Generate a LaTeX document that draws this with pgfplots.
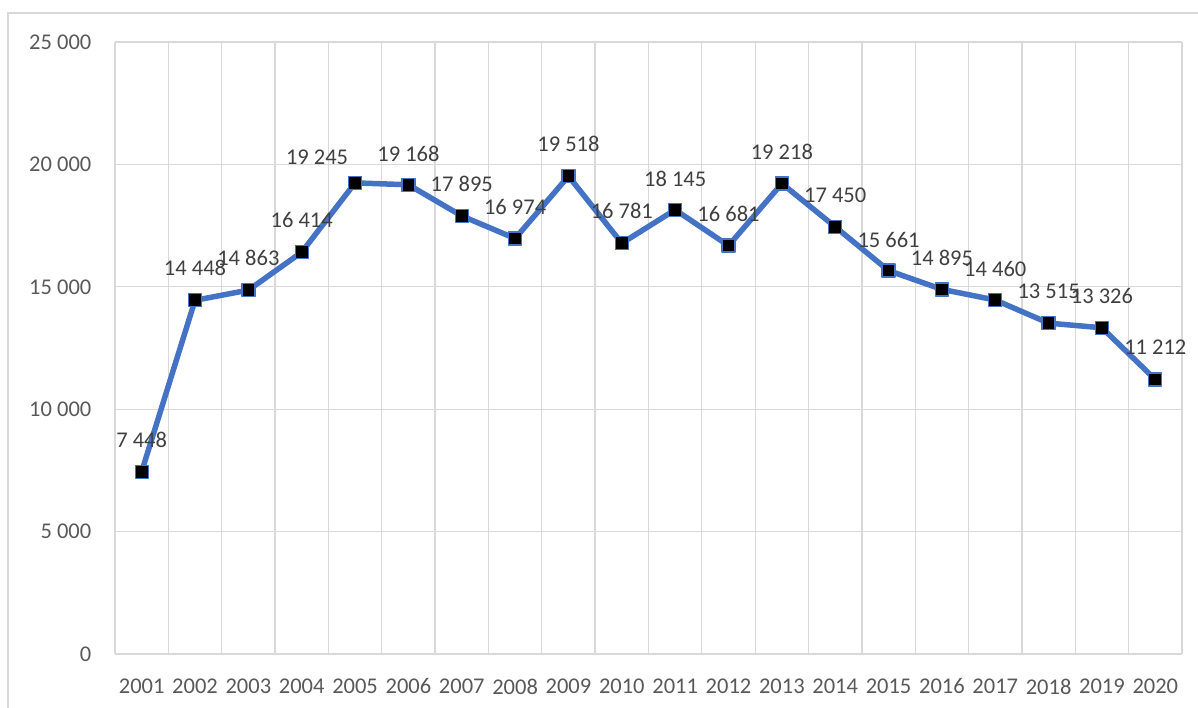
\documentclass[border=0pt]{standalone}
\usepackage{pgfplots}
\pgfplotsset{compat=1.18}
\usepackage{pgfplotstable}
\usepackage{fontspec}
\setmainfont{Carlito}
\definecolor{xblue}{HTML}{4472C4}
\definecolor{gridgray}{HTML}{D9D9D9}
\definecolor{txtgray}{HTML}{595959}
\definecolor{lblgray}{HTML}{404040}
\pgfplotstableread{
x y dx dy
1 7448 0 32
2 14448 0 32
3 14863 0 32
4 16414 0 32
5 19245 -38 26
6 19168 0 31
7 17895 0 32
8 16974 0 31
9 19518 0 32
10 16781 0 32
11 18145 0 31
12 16681 0 32
13 19218 0 32
14 17450 0 32
15 15661 0 31
16 14895 0 31
17 14460 0 31
18 13515 0 32
19 13326 0 32
20 11212 0 32
}\datatable
\begin{document}
\fontsize{22.5bp}{27bp}\selectfont
\begin{tikzpicture}
\path[use as bounding box] (-115bp,-54bp) rectangle (1083bp,654bp);
\draw[gridgray, line width=1.3bp] (-107bp,-80bp) -- (-107bp,641bp) -- (1090bp,641bp);
\begin{axis}[
  at={(0,0)}, anchor=south west,
  scale only axis,
  width=1067bp, height=612bp,
  xmin=0.5, xmax=20.5,
  ymin=0, ymax=25000,
  xtick={1,...,20},
  xticklabels={2001,2002,2003,2004,2005,2006,2007,2008,2009,2010,2011,2012,2013,2014,2015,2016,2017,2018,2019,2020},
  minor xtick={0.5,1.5,...,20.5},
  ytick={0,5000,10000,15000,20000,25000},
  scaled y ticks=false,
  major tick length=0pt, minor tick length=0pt,
  xmajorgrids=false, xminorgrids=true, ymajorgrids=true,
  grid style={gridgray, line width=1.3bp},
  minor grid style={gridgray, line width=1.3bp},
  axis line style={gridgray, line width=1.3bp},
  axis x line*=bottom, axis y line*=left,
  x axis line style={-}, y axis line style={-},
  tick label style={text=txtgray, font=\fontsize{22.5bp}{27bp}\selectfont},
  xticklabel shift=17bp,
  yticklabel shift=16bp,
  /pgf/number format/assume math mode=true,
  /pgf/number format/1000 sep={\ },
  clip=false,
]
\addplot[
  xblue, line width=5.5bp, line join=round,
  mark=square*, mark size=6.5bp,
  mark options={fill=black, draw=xblue, line width=1.3bp},
  visualization depends on={\thisrow{dx}\as\dx},
  visualization depends on={\thisrow{dy}\as\dy},
  nodes near coords,
  every node near coord/.append style={anchor=center, xshift=\dx bp, yshift=\dy bp, text=lblgray, font=\fontsize{22.5bp}{27bp}\selectfont},
] table[x=x, y=y] {\datatable};
\end{axis}
\end{tikzpicture}
\end{document}
